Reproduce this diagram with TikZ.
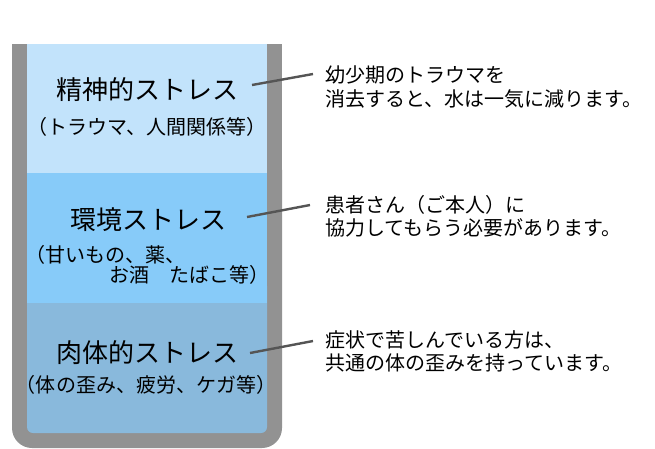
\documentclass[tikz,border=0pt]{standalone}
\usepackage{fontspec}
\newfontfamily\jp{Noto Sans CJK JP}
\definecolor{cupgray}{RGB}{146,146,146}
\definecolor{bandA}{RGB}{194,227,251}
\definecolor{bandB}{RGB}{135,203,249}
\definecolor{bandC}{RGB}{137,185,220}
\definecolor{linegray}{RGB}{85,85,85}
\tikzset{
  title/.style={font=\jp\fontsize{26}{30}\selectfont, inner sep=0pt, text=black},
  sub/.style={font=\jp\fontsize{20}{23}\selectfont, inner sep=0pt, text=black},
  note/.style={font=\jp\fontsize{20}{23.5}\selectfont, inner sep=0pt, align=left, anchor=west, text=black},
  conn/.style={draw=linegray, line width=2.4pt}
}
\begin{document}
\begin{tikzpicture}[x=1pt,y=-1pt]
\useasboundingbox (0,0) rectangle (655,448);
% cup
\fill[cupgray] (12,44) rectangle (282,200);
\fill[cupgray, rounded corners=20] (12,150) rectangle (282,448);
\fill[bandC, rounded corners=6] (27,280) rectangle (267,433);
\fill[bandB] (27,173) rectangle (267,303);
\fill[bandA] (27,44) rectangle (267,173);
% titles
\node[title] (t1) at (147,90) {精神的ストレス};
\node[sub] (s1) at (147,127) {（トラウマ、人間関係等）};
\node[title] (t2) at (148,220) {環境ストレス};
\node[sub, anchor=west] (s2a) at (25,255) {（甘いもの、薬、};
\node[sub, anchor=east] (s2b) at (270,275) {お酒　たばこ等）};
\node[title] (t3) at (147,353) {肉体的ストレス};
\node[sub] (s3) at (146,385) {（体の歪み、疲労、ケガ等）};
% notes
\node[note] (n1) at (325,87) {幼少期のトラウマを\\消去すると、水は一気に減ります。};
\node[note] (n2) at (325,216.5) {患者さん（ご本人）に\\協力してもらう必要があります。};
\node[note] (n3) at (325,351.5) {症状で苦しんでいる方は、\\共通の体の歪みを持っています。};
% connectors
\coordinate (a1) at (252,85); \coordinate (b1) at (313,74);
\coordinate (a2) at (247,217); \coordinate (b2) at (310,205);
\coordinate (a3) at (250,353); \coordinate (b3) at (313,341);
\draw[conn] (a1) -- (b1);
\draw[conn] (a2) -- (b2);
\draw[conn] (a3) -- (b3);
\end{tikzpicture}
\end{document}
